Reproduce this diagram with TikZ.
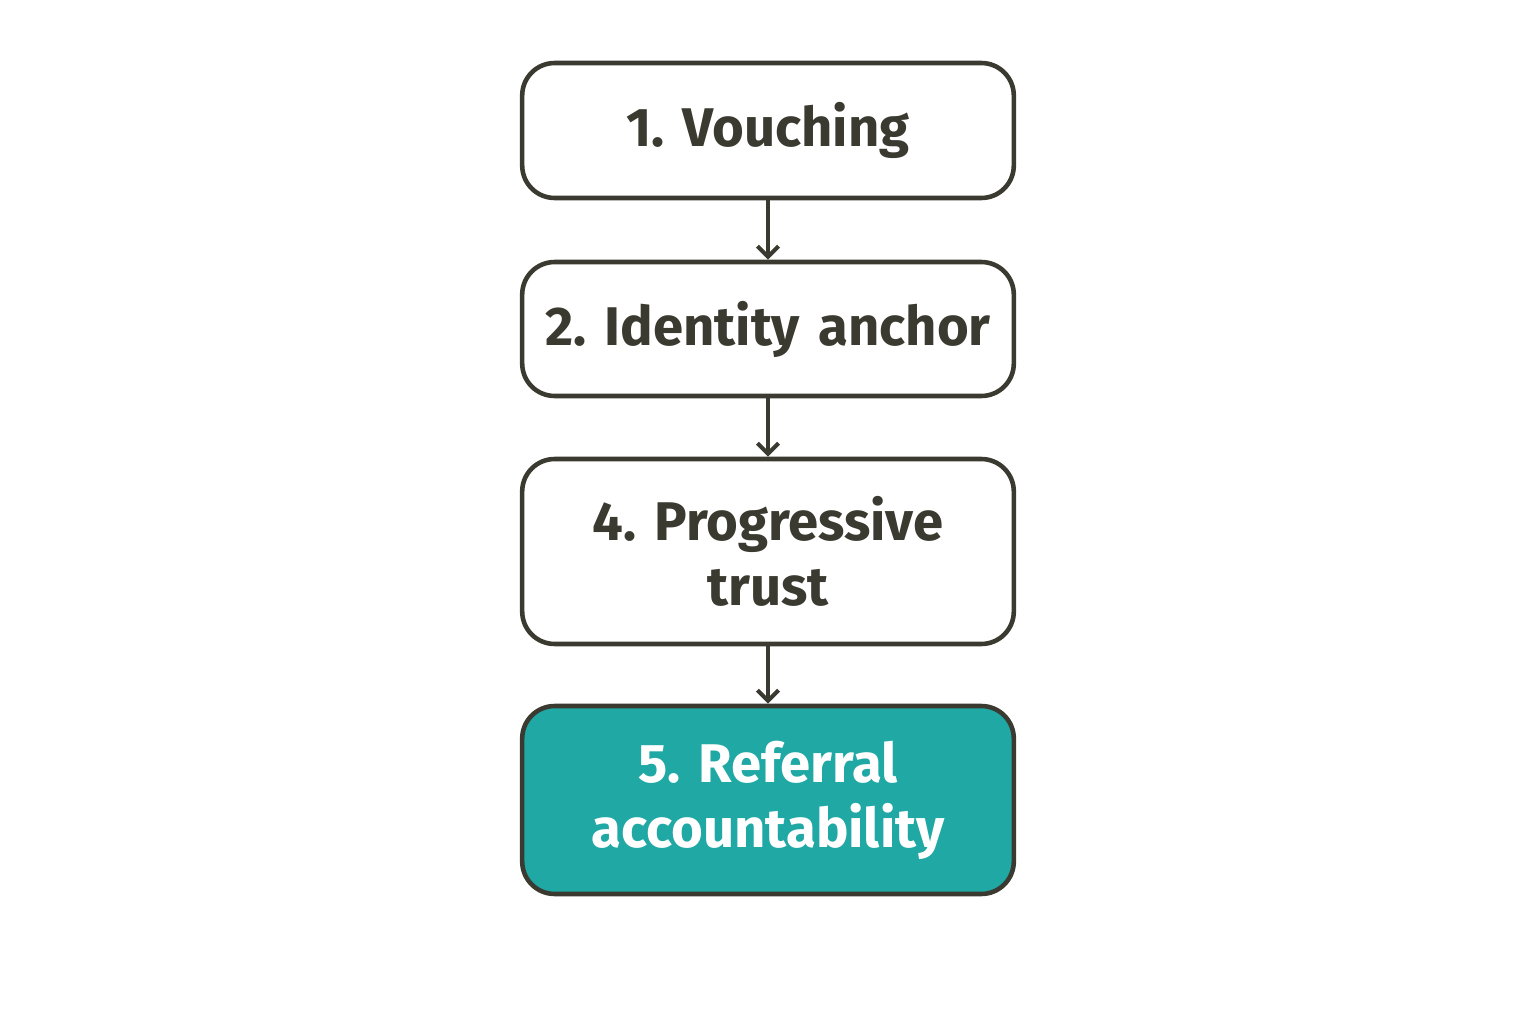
\documentclass[tikz,border=0pt]{standalone}
\usepackage{fontspec}
\setmainfont{Fira Sans}
\usetikzlibrary{arrows.meta,positioning}
\definecolor{inkdark}{HTML}{3A3A30}
\definecolor{tealfill}{HTML}{1FA8A4}

\begin{document}
\frenchspacing
\begin{tikzpicture}[
    x=0.02cm, y=-0.02cm,
    stagebox/.style={rectangle, draw=inkdark, line width=2.6pt, fill=white, rounded corners=0.65cm, minimum width=9.76cm, text width=9.6cm, align=center, text=inkdark, font=\fontsize{31}{37}\selectfont\bfseries},
    finalbox/.style={stagebox, fill=tealfill, text=white},
    arrow/.style={inkdark, line width=2.4pt, -{Straight Barb[length=6pt,width=12pt]}}
]

% Canvas
\useasboundingbox (0,0) rectangle (1536,1024);

% Steps
\node[stagebox, minimum height=2.7cm] (vouch) at (768,130.5) {1. Vouching};
\node[stagebox, minimum height=2.68cm] (anchor) at (768,329) {2. Identity anchor};
\node[stagebox, minimum height=3.7cm] (progress) at (768,551.5) {4. Progressive\\trust};
\node[finalbox, minimum height=3.76cm] (referral) at (768,800) {5. Referral\\accountability};

% Connectors
\draw[arrow] (vouch) -- (anchor);
\draw[arrow] (anchor) -- (progress);
\draw[arrow] (progress) -- (referral);

\end{tikzpicture}
\end{document}
